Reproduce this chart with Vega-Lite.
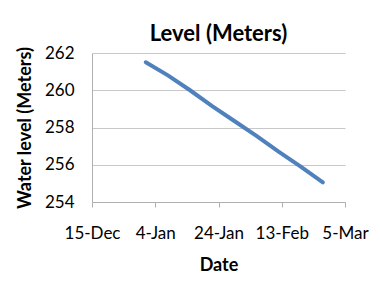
{
  "$schema": "https://vega.github.io/schema/vega-lite/v6.json",
  "width": 253,
  "height": 149,
  "autosize": {"type": "none"},
  "padding": {"left": 92, "top": 53, "right": 35, "bottom": 85},
  "background": "white",
  "config": {
    "view": {"stroke": null},
    "font": "Lato",
    "axis": {"labelFont": "Lato", "titleFont": "Lato", "labelColor": "#000", "titleColor": "#000", "domainColor": "#b0b0b0", "tickColor": "#b0b0b0", "gridColor": "#c8c8c8"}
  },
  "title": {"text": "Level (Meters)", "fontSize": 22, "fontWeight": "bold", "font": "Lato", "color": "#000", "anchor": "middle", "offset": -2},
  "data": {
    "values": [
      {"date": "2013-01-01", "level": 261.5},
      {"date": "2013-01-08", "level": 260.8},
      {"date": "2013-01-15", "level": 260.0},
      {"date": "2013-01-22", "level": 259.15},
      {"date": "2013-01-29", "level": 258.35},
      {"date": "2013-02-05", "level": 257.55},
      {"date": "2013-02-12", "level": 256.7},
      {"date": "2013-02-19", "level": 255.9},
      {"date": "2013-02-26", "level": 255.05}
    ]
  },
  "mark": {"type": "line", "color": "#4F81BD", "strokeWidth": 4, "strokeCap": "round"},
  "encoding": {
    "x": {
      "field": "date", "type": "temporal",
      "scale": {"type": "utc", "domain": [{"year": 2012, "month": 12, "date": 15, "utc": true}, {"year": 2013, "month": 3, "date": 5, "utc": true}]},
      "axis": {
        "values": [
          {"year": 2012, "month": 12, "date": 15, "utc": true},
          {"year": 2013, "month": 1, "date": 4, "utc": true},
          {"year": 2013, "month": 1, "date": 24, "utc": true},
          {"year": 2013, "month": 2, "date": 13, "utc": true},
          {"year": 2013, "month": 3, "date": 5, "utc": true}
        ],
        "labelExpr": "utcFormat(datum.value, '%-d-%b')",
        "labelFlush": false,
        "title": "Date", "titleFontSize": 18, "titleFontWeight": "bold", "titlePadding": 15,
        "labelFontSize": 17, "labelPadding": 18, "tickSize": 5, "grid": false, "labelOverlap": false
      }
    },
    "y": {
      "field": "level", "type": "quantitative",
      "scale": {"domain": [254, 262], "nice": false, "zero": false},
      "axis": {
        "values": [254, 256, 258, 260, 262],
        "title": "Water level (Meters)", "titleFontSize": 18, "titleFontWeight": "bold", "titlePadding": 10,
        "labelFontSize": 17, "labelPadding": 18, "ticks": false, "grid": true, "labelFlush": false
      }
    }
  }
}
